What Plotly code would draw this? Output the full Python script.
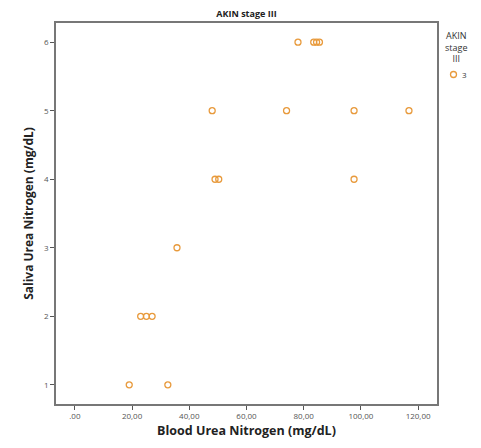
import plotly.graph_objects as go

# Data
bun = [78, 83.5, 84.5, 85.5,
       48, 74, 97.6, 116.8,
       49, 50.3, 97.6,
       35.7,
       23, 25, 27,
       19, 32.5]
sun = [6, 6, 6, 6,
       5, 5, 5, 5,
       4, 4, 4,
       3,
       2, 2, 2,
       1, 1]
x_tick_vals = [0, 20, 40, 60, 80, 100, 120]
x_tick_text = [".00", "20,00", "40,00", "60,00", "80,00", "100,00", "120,00"]
y_tick_vals = [1, 2, 3, 4, 5, 6]
series_name = "3"
color = "#e89a3c"

W, H = 481, 448
L, R, T, B = 56, 44, 23, 44

fig = go.Figure()
fig.add_trace(go.Scatter(
    x=bun, y=sun, mode="markers", name=series_name, showlegend=False,
    marker=dict(symbol="circle-open", size=6, color=color, line=dict(width=1.3)),
))

def px(xp):
    return (xp - L) / (W - L - R)

def py(yp):
    return (H - B - yp) / (H - T - B)

# Legend (title + one entry) drawn to the right of the plot
fig.add_annotation(x=px(456), y=py(47), xref="paper", yref="paper",
                   text="AKIN<br>stage<br>III", showarrow=False, align="center",
                   font=dict(size=9, color="#333"), xanchor="center", yanchor="middle")
fig.add_shape(type="circle", xref="paper", yref="paper",
              x0=px(450.5), x1=px(456.5), y0=py(71.5), y1=py(77.5),
              line=dict(color=color, width=1.3))
fig.add_annotation(x=px(460), y=py(74.5), xref="paper", yref="paper",
                   text=series_name, showarrow=False, xanchor="left", yanchor="middle",
                   font=dict(size=8, color="#333"))

fig.update_layout(
    width=W, height=H,
    margin=dict(l=L, r=R, t=T, b=B, autoexpand=False),
    paper_bgcolor="white", plot_bgcolor="white",
    font=dict(family="Open Sans, DejaVu Sans, sans-serif", color="#222"),
    title=dict(text="<b>AKIN stage III</b>", x=0.5, xanchor="center",
               xref="paper", y=1 - 14 / H, yanchor="middle", font=dict(size=9)),
    showlegend=False,
    xaxis=dict(range=[-6.6, 126.6], tickvals=x_tick_vals, ticktext=x_tick_text,
               ticks="outside", ticklen=4, tickcolor="#555", showgrid=False, zeroline=False,
               showline=True, linecolor="#777", linewidth=1.5, mirror=True, automargin=False,
               tickfont=dict(size=8, color="#555"),
               title=dict(text="<b>Blood Urea Nitrogen (mg/dL)</b>", font=dict(size=12.5), standoff=6)),
    yaxis=dict(range=[0.72, 6.28], tickvals=y_tick_vals,
               ticks="outside", ticklen=4, tickcolor="#555", showgrid=False, zeroline=False,
               showline=True, linecolor="#777", linewidth=1.5, mirror=True, automargin=False,
               tickfont=dict(size=8, color="#555"),
               title=dict(text="<b>Saliva Urea Nitrogen (mg/dL)</b>", font=dict(size=12), standoff=8)),
)

fig.write_html("out.html", config={"displayModeBar": False},
               post_script="document.body.style.margin='0';")
